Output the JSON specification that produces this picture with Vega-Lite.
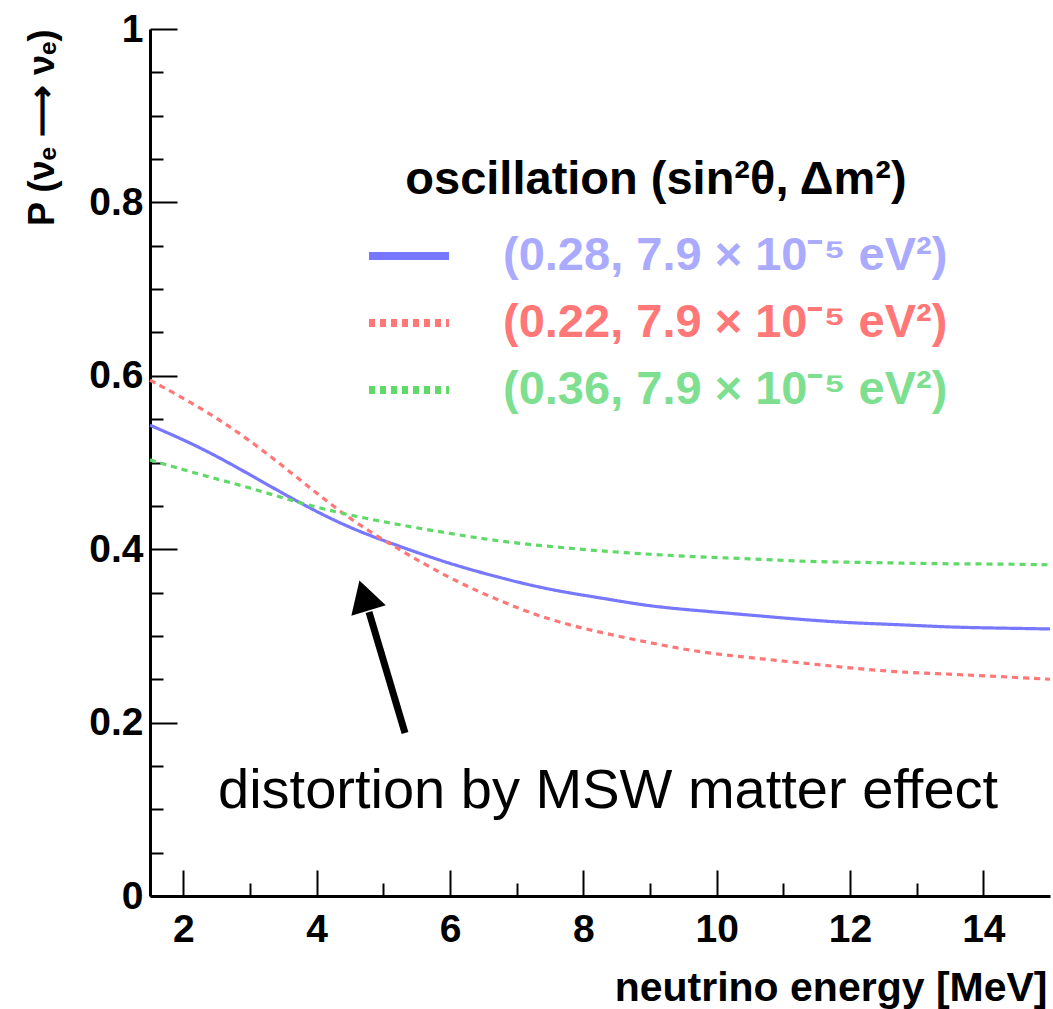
{
  "$schema": "https://vega.github.io/schema/vega-lite/v6.json",
  "width": 900,
  "height": 867,
  "autosize": {"type": "none"},
  "padding": {"left": 150, "top": 29, "right": 3, "bottom": 113},
  "background": "white",
  "config": {
    "view": {"stroke": null},
    "font": "Liberation Sans"
  },
  "layer": [
    {
      "data": {
        "values": [
          {"E": 1.5, "P": 0.543, "series": "(0.28, 7.9 × 10⁻⁵ eV²)"},
          {"E": 2.25, "P": 0.518, "series": "(0.28, 7.9 × 10⁻⁵ eV²)"},
          {"E": 3.0, "P": 0.486, "series": "(0.28, 7.9 × 10⁻⁵ eV²)"},
          {"E": 3.75, "P": 0.453, "series": "(0.28, 7.9 × 10⁻⁵ eV²)"},
          {"E": 4.5, "P": 0.424, "series": "(0.28, 7.9 × 10⁻⁵ eV²)"},
          {"E": 5.25, "P": 0.403, "series": "(0.28, 7.9 × 10⁻⁵ eV²)"},
          {"E": 6.0, "P": 0.383, "series": "(0.28, 7.9 × 10⁻⁵ eV²)"},
          {"E": 6.75, "P": 0.367, "series": "(0.28, 7.9 × 10⁻⁵ eV²)"},
          {"E": 7.5, "P": 0.353, "series": "(0.28, 7.9 × 10⁻⁵ eV²)"},
          {"E": 8.25, "P": 0.344, "series": "(0.28, 7.9 × 10⁻⁵ eV²)"},
          {"E": 9.0, "P": 0.334, "series": "(0.28, 7.9 × 10⁻⁵ eV²)"},
          {"E": 9.75, "P": 0.329, "series": "(0.28, 7.9 × 10⁻⁵ eV²)"},
          {"E": 10.5, "P": 0.324, "series": "(0.28, 7.9 × 10⁻⁵ eV²)"},
          {"E": 11.25, "P": 0.319, "series": "(0.28, 7.9 × 10⁻⁵ eV²)"},
          {"E": 12.0, "P": 0.315, "series": "(0.28, 7.9 × 10⁻⁵ eV²)"},
          {"E": 12.75, "P": 0.313, "series": "(0.28, 7.9 × 10⁻⁵ eV²)"},
          {"E": 13.5, "P": 0.310, "series": "(0.28, 7.9 × 10⁻⁵ eV²)"},
          {"E": 14.25, "P": 0.309, "series": "(0.28, 7.9 × 10⁻⁵ eV²)"},
          {"E": 15.0, "P": 0.308, "series": "(0.28, 7.9 × 10⁻⁵ eV²)"},
          {"E": 1.5, "P": 0.595, "series": "(0.22, 7.9 × 10⁻⁵ eV²)"},
          {"E": 2.25, "P": 0.564, "series": "(0.22, 7.9 × 10⁻⁵ eV²)"},
          {"E": 3.0, "P": 0.526, "series": "(0.22, 7.9 × 10⁻⁵ eV²)"},
          {"E": 3.75, "P": 0.480, "series": "(0.22, 7.9 × 10⁻⁵ eV²)"},
          {"E": 4.5, "P": 0.434, "series": "(0.22, 7.9 × 10⁻⁵ eV²)"},
          {"E": 5.25, "P": 0.399, "series": "(0.22, 7.9 × 10⁻⁵ eV²)"},
          {"E": 6.0, "P": 0.366, "series": "(0.22, 7.9 × 10⁻⁵ eV²)"},
          {"E": 6.75, "P": 0.340, "series": "(0.22, 7.9 × 10⁻⁵ eV²)"},
          {"E": 7.5, "P": 0.318, "series": "(0.22, 7.9 × 10⁻⁵ eV²)"},
          {"E": 8.25, "P": 0.304, "series": "(0.22, 7.9 × 10⁻⁵ eV²)"},
          {"E": 9.0, "P": 0.292, "series": "(0.22, 7.9 × 10⁻⁵ eV²)"},
          {"E": 9.75, "P": 0.281, "series": "(0.22, 7.9 × 10⁻⁵ eV²)"},
          {"E": 10.5, "P": 0.275, "series": "(0.22, 7.9 × 10⁻⁵ eV²)"},
          {"E": 11.25, "P": 0.269, "series": "(0.22, 7.9 × 10⁻⁵ eV²)"},
          {"E": 12.0, "P": 0.263, "series": "(0.22, 7.9 × 10⁻⁵ eV²)"},
          {"E": 12.75, "P": 0.258, "series": "(0.22, 7.9 × 10⁻⁵ eV²)"},
          {"E": 13.5, "P": 0.256, "series": "(0.22, 7.9 × 10⁻⁵ eV²)"},
          {"E": 14.25, "P": 0.253, "series": "(0.22, 7.9 × 10⁻⁵ eV²)"},
          {"E": 15.0, "P": 0.250, "series": "(0.22, 7.9 × 10⁻⁵ eV²)"},
          {"E": 1.5, "P": 0.503, "series": "(0.36, 7.9 × 10⁻⁵ eV²)"},
          {"E": 2.25, "P": 0.486, "series": "(0.36, 7.9 × 10⁻⁵ eV²)"},
          {"E": 3.0, "P": 0.471, "series": "(0.36, 7.9 × 10⁻⁵ eV²)"},
          {"E": 3.75, "P": 0.453, "series": "(0.36, 7.9 × 10⁻⁵ eV²)"},
          {"E": 4.5, "P": 0.439, "series": "(0.36, 7.9 × 10⁻⁵ eV²)"},
          {"E": 5.25, "P": 0.428, "series": "(0.36, 7.9 × 10⁻⁵ eV²)"},
          {"E": 6.0, "P": 0.418, "series": "(0.36, 7.9 × 10⁻⁵ eV²)"},
          {"E": 6.75, "P": 0.409, "series": "(0.36, 7.9 × 10⁻⁵ eV²)"},
          {"E": 7.5, "P": 0.403, "series": "(0.36, 7.9 × 10⁻⁵ eV²)"},
          {"E": 8.25, "P": 0.398, "series": "(0.36, 7.9 × 10⁻⁵ eV²)"},
          {"E": 9.0, "P": 0.394, "series": "(0.36, 7.9 × 10⁻⁵ eV²)"},
          {"E": 9.75, "P": 0.391, "series": "(0.36, 7.9 × 10⁻⁵ eV²)"},
          {"E": 10.5, "P": 0.389, "series": "(0.36, 7.9 × 10⁻⁵ eV²)"},
          {"E": 11.25, "P": 0.386, "series": "(0.36, 7.9 × 10⁻⁵ eV²)"},
          {"E": 12.0, "P": 0.385, "series": "(0.36, 7.9 × 10⁻⁵ eV²)"},
          {"E": 12.75, "P": 0.384, "series": "(0.36, 7.9 × 10⁻⁵ eV²)"},
          {"E": 13.5, "P": 0.383, "series": "(0.36, 7.9 × 10⁻⁵ eV²)"},
          {"E": 14.25, "P": 0.383, "series": "(0.36, 7.9 × 10⁻⁵ eV²)"},
          {"E": 15.0, "P": 0.382, "series": "(0.36, 7.9 × 10⁻⁵ eV²)"}
        ]
      },
      "mark": {"type": "line", "strokeWidth": 3.2, "interpolate": "basis"},
      "encoding": {
        "x": {
          "field": "E", "type": "quantitative",
          "scale": {"domain": [1.5, 15], "nice": false, "zero": false},
          "axis": {
            "values": [2, 3, 4, 5, 6, 7, 8, 9, 10, 11, 12, 13, 14],
            "labelExpr": "datum.value % 2 == 0 ? format(datum.value, 'd') : ''",
            "grid": false,
            "domainColor": "black", "domainWidth": 3,
            "tickColor": "black", "tickWidth": 2,
            "tickSize": {"condition": {"test": "datum.value % 2 == 0", "value": -26}, "value": -13},
            "labelPadding": 40,
            "labelFont": "Liberation Sans", "labelFontWeight": "bold", "labelFontSize": 39, "labelColor": "black",
            "labelFlush": false, "labelOverlap": false,
            "title": "neutrino energy [MeV]",
            "titleFont": "Liberation Sans", "titleFontWeight": "bold", "titleFontSize": 41, "titleColor": "black",
            "titleAnchor": "end", "titleAlign": "right", "titleBaseline": "alphabetic",
            "titleX": 897, "titleY": 104
          }
        },
        "y": {
          "field": "P", "type": "quantitative",
          "scale": {"domain": [0, 1], "nice": false},
          "axis": {
            "values": [0, 0.05, 0.1, 0.15, 0.2, 0.25, 0.3, 0.35, 0.4, 0.45, 0.5, 0.55, 0.6, 0.65, 0.7, 0.75, 0.8, 0.85, 0.9, 0.95, 1],
            "labelExpr": "abs(datum.value*5-round(datum.value*5))<0.001 ? (datum.value==0 ? '0' : (datum.value>0.999 ? '1' : format(datum.value, '.1f'))) : ''",
            "grid": false,
            "domainColor": "black", "domainWidth": 3,
            "tickColor": "black", "tickWidth": 2,
            "tickSize": {"condition": {"test": "abs(datum.value*5-round(datum.value*5))<0.001", "value": -27}, "value": -13},
            "labelPadding": 34,
            "labelFont": "Liberation Sans", "labelFontWeight": "bold", "labelFontSize": 39, "labelColor": "black",
            "labelFlush": false, "labelOverlap": false,
            "title": "P (νₑ ⟶ νₑ)",
            "titleFont": "Liberation Sans", "titleFontWeight": "bold", "titleFontSize": 36, "titleColor": "black",
            "titleAngle": -90, "titleAlign": "right", "titleBaseline": "alphabetic",
            "titleX": -97, "titleY": 0
          }
        },
        "color": {
          "field": "series", "type": "nominal",
          "scale": {
            "domain": ["(0.28, 7.9 × 10⁻⁵ eV²)", "(0.22, 7.9 × 10⁻⁵ eV²)", "(0.36, 7.9 × 10⁻⁵ eV²)"],
            "range": ["#7777ff", "#ff7777", "#5fd968"]
          },
          "legend": {
            "orient": "none",
            "legendX": 215,
            "legendY": 128,
            "padding": 0,
            "title": "oscillation (sin²θ, Δm²)",
            "titleFont": "Liberation Sans", "titleFontWeight": "bold", "titleFontSize": 47, "titleColor": "black",
            "titleAnchor": "middle", "titlePadding": 8, "titleLimit": 2000,
            "symbolType": "stroke", "symbolSize": 6400, "symbolStrokeWidth": 8,
            "labelFont": "Liberation Sans", "labelFontWeight": "bold", "labelFontSize": 47,
            "labelOffset": 50, "labelLimit": 2000,
            "rowPadding": -14,
            "encode": {
              "symbols": {"update": {
                "stroke": {"signal": "indexof(datum.value,'0.28')>=0 ? '#aaaaff' : (indexof(datum.value,'0.22')>=0 ? '#ff7777' : '#7ddf8f')"},
                "strokeDash": {"signal": "indexof(datum.value,'0.28')>=0 ? [1,0] : [8,8]"},
                "strokeWidth": {"value": 8}
              }},
              "labels": {"update": {
                "fill": {"signal": "indexof(datum.value,'0.28')>=0 ? '#aaaaff' : (indexof(datum.value,'0.22')>=0 ? '#ff7777' : '#7ddf8f')"}
              }}
            }
          }
        },
        "strokeDash": {
          "field": "series", "type": "nominal",
          "scale": {
            "domain": ["(0.28, 7.9 × 10⁻⁵ eV²)", "(0.22, 7.9 × 10⁻⁵ eV²)", "(0.36, 7.9 × 10⁻⁵ eV²)"],
            "range": [[1, 0], [6, 5], [6, 5]]
          },
          "legend": null
        }
      }
    },
    {
      "data": {"values": [{"label": "distortion by MSW matter effect"}]},
      "mark": {"type": "text", "font": "Liberation Sans", "fontSize": 56, "fontWeight": "normal", "color": "black", "align": "left", "baseline": "alphabetic"},
      "encoding": {
        "x": {"datum": 2.52, "type": "quantitative"},
        "y": {"datum": 0.1015, "type": "quantitative"},
        "text": {"field": "label"}
      }
    },
    {
      "data": {"values": [{"note": "arrow"}]},
      "mark": {"type": "rule", "color": "black", "strokeWidth": 7},
      "encoding": {
        "x": {"datum": 5.325, "type": "quantitative"},
        "y": {"datum": 0.188, "type": "quantitative"},
        "x2": {"datum": 4.785},
        "y2": {"datum": 0.3276}
      }
    },
    {
      "data": {"values": [{"note": "arrowhead"}]},
      "mark": {"type": "point", "shape": "triangle-up", "filled": true, "color": "black", "opacity": 1, "size": 1300, "angle": 343},
      "encoding": {
        "x": {"datum": 4.71, "type": "quantitative"},
        "y": {"datum": 0.3466, "type": "quantitative"}
      }
    }
  ]
}
